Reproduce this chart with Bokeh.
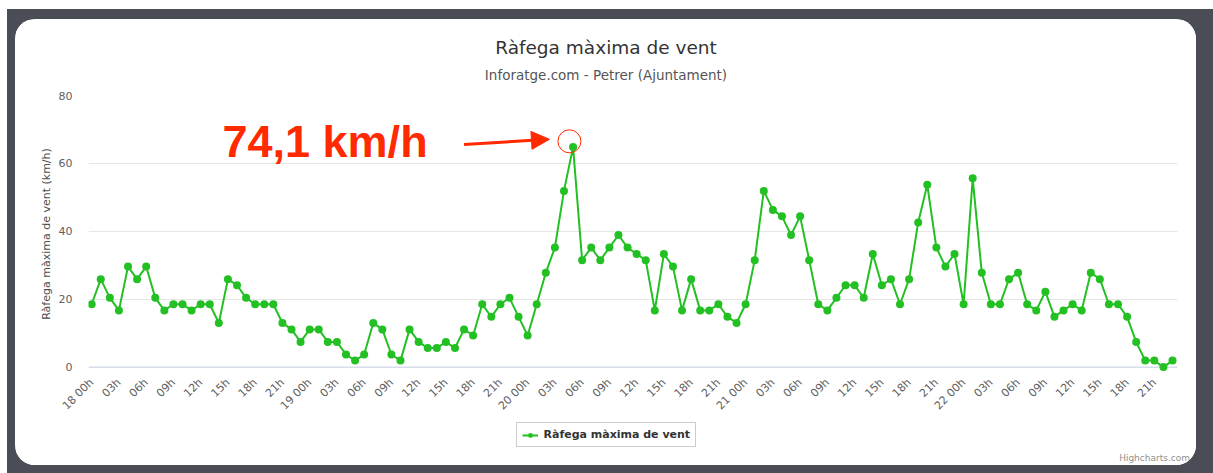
from bokeh.plotting import figure
from bokeh.models import Range1d, FixedTicker, Label, Legend, LegendItem, Arrow, NormalHead, Span, Div
from bokeh.layouts import column
from bokeh.embed import file_html
from bokeh.resources import INLINE

# ---------------- data ----------------
# hourly maximum wind gust, km/h, from day 18 00h to day 22 23h
gust_kmh = [
    18.5, 25.9, 20.4, 16.7, 29.6, 25.9, 29.6, 20.4, 16.7, 18.5, 18.5, 16.7,
    18.5, 18.5, 13.0, 25.9, 24.1, 20.4, 18.5, 18.5, 18.5, 13.0, 11.1, 7.4,
    11.1, 11.1, 7.4, 7.4, 3.7, 1.9, 3.7, 13.0, 11.1, 3.7, 1.9, 11.1,
    7.4, 5.6, 5.6, 7.4, 5.6, 11.1, 9.3, 18.5, 14.8, 18.5, 20.4, 14.8,
    9.3, 18.5, 27.8, 35.2, 51.9, 64.8, 31.5, 35.2, 31.5, 35.2, 38.9, 35.2,
    33.3, 31.5, 16.7, 33.3, 29.6, 16.7, 25.9, 16.7, 16.7, 18.5, 14.8, 13.0,
    18.5, 31.5, 51.9, 46.3, 44.4, 38.9, 44.4, 31.5, 18.5, 16.7, 20.4, 24.1,
    24.1, 20.4, 33.3, 24.1, 25.9, 18.5, 25.9, 42.6, 53.7, 35.2, 29.6, 33.3,
    18.5, 55.6, 27.8, 18.5, 18.5, 25.9, 27.8, 18.5, 16.7, 22.2, 14.8, 16.7,
    18.5, 16.7, 27.8, 25.9, 18.5, 18.5, 14.8, 7.4, 1.9, 1.9, 0.0, 1.9,
]
hours = list(range(len(gust_kmh)))

tick_positions = list(range(0, 120, 3))
tick_labels = [
    "18 00h", "03h", "06h", "09h", "12h", "15h", "18h", "21h",
    "19 00h", "03h", "06h", "09h", "12h", "15h", "18h", "21h",
    "20 00h", "03h", "06h", "09h", "12h", "15h", "18h", "21h",
    "21 00h", "03h", "06h", "09h", "12h", "15h", "18h", "21h",
    "22 00h", "03h", "06h", "09h", "12h", "15h", "18h", "21h",
]
y_ticks = [0, 20, 40, 60, 80]

title_text = "Ràfega màxima de vent"
subtitle_text = "Inforatge.com - Petrer (Ajuntament)"
y_title = "Ràfega màxima de vent (km/h)"
series_name = "Ràfega màxima de vent"
note_text = "74,1 km/h"
credit_text = "Highcharts.com"

# ---------------- styles ----------------
GREEN = "#22c022"
RED = "#ff2a00"
FONT = "DejaVu Sans"
FRAME_DARK = "#4a4d55"
CARD_W = 1181
LEFT_B, RIGHT_B = 73, 19          # frame borders, shared by all rows of the card
CARD_CX = CARD_W / 2 - LEFT_B     # card centre, relative to the frame


def blank_figure(height, y_range):
    f = figure(width=CARD_W, height=height, output_backend="svg", toolbar_location=None,
               title=None, x_axis_location=None, y_axis_location=None,
               x_range=Range1d(0, 120), y_range=y_range,
               min_border_left=LEFT_B, min_border_right=RIGHT_B,
               min_border_top=0, min_border_bottom=0)
    f.grid.visible = False
    f.outline_line_color = None
    f.border_fill_color = "white"
    f.background_fill_color = "white"
    return f


# ---------------- header: title + subtitle ----------------
head = blank_figure(66, Range1d(0, 1))
head.add_layout(Label(x=CARD_CX, y=38, x_units="screen", y_units="screen", text=title_text,
                      text_align="center", text_baseline="middle", text_font=FONT,
                      text_font_size="18.5px", text_color="#333333"))
head.add_layout(Label(x=CARD_CX, y=11, x_units="screen", y_units="screen", text=subtitle_text,
                      text_align="center", text_baseline="middle", text_font=FONT,
                      text_font_size="13.5px", text_color="#555555"))

# ---------------- main chart ----------------
p = figure(
    width=CARD_W, height=334, output_backend="svg", toolbar_location=None, title=None,
    x_range=Range1d(-0.35, 119.55), y_range=Range1d(-1.6, 80),
    min_border_left=LEFT_B, min_border_right=RIGHT_B, min_border_top=10, min_border_bottom=47,
)
p.border_fill_color = "white"
p.background_fill_color = "white"
p.outline_line_color = None

p.yaxis.ticker = FixedTicker(ticks=y_ticks)
p.yaxis.axis_line_color = None
p.yaxis.major_tick_line_color = None
p.yaxis.minor_tick_line_color = None
p.yaxis.major_tick_out = 0
p.yaxis.major_tick_in = 0
p.yaxis.major_label_standoff = 16
p.yaxis.major_label_text_font = FONT
p.yaxis.major_label_text_font_size = "11px"
p.yaxis.major_label_text_color = "#606060"
p.yaxis.axis_label = y_title
p.yaxis.axis_label_text_font = FONT
p.yaxis.axis_label_text_font_size = "11px"
p.yaxis.axis_label_text_font_style = "normal"
p.yaxis.axis_label_text_color = "#4d4d4d"
p.yaxis.axis_label_standoff = 3

p.xaxis.ticker = FixedTicker(ticks=tick_positions)
p.xaxis.major_label_overrides = {t: lab for t, lab in zip(tick_positions, tick_labels)}
p.xaxis.axis_line_color = None
p.xaxis.major_tick_line_color = None
p.xaxis.minor_tick_line_color = None
p.xaxis.major_tick_out = 0
p.xaxis.major_tick_in = 0
p.xaxis.major_label_orientation = 0.785398
p.xaxis.major_label_standoff = 8
p.xaxis.major_label_text_font = FONT
p.xaxis.major_label_text_font_size = "11px"
p.xaxis.major_label_text_color = "#606060"

p.xgrid.visible = False
p.ygrid.ticker = FixedTicker(ticks=y_ticks)
p.ygrid.grid_line_color = "#e6e6e6"

p.add_layout(Span(location=0, dimension="width", line_color="#ccd6eb", line_width=1, level="underlay"))

p.line(hours, gust_kmh, line_color=GREEN, line_width=2)
p.scatter(hours, gust_kmh, size=8, fill_color=GREEN, line_color=None)

# peak highlight
peak_i = max(hours, key=lambda i: gust_kmh[i])
peak_v = gust_kmh[peak_i]
p.scatter([peak_i - 0.4], [peak_v + 1.7], size=23, fill_color=None, line_color=RED, line_width=1)
p.add_layout(Arrow(
    x_start=peak_i - 12.0, y_start=peak_v + 0.8, x_end=peak_i - 2.6, y_end=peak_v + 2.3,
    line_color=RED, line_width=3,
    end=NormalHead(size=18, fill_color=RED, line_color=RED),
))
p.add_layout(Label(x=134, y=231, x_units="screen", y_units="screen", text=note_text,
                   text_align="left", text_baseline="alphabetic", text_font="Liberation Sans",
                   text_font_style="bold", text_font_size="45px", text_color=RED))

# ---------------- footer: legend ----------------
# the series is drawn again here only as the legend's sample; this row's y range
# lies far below 0, so none of its points show
foot = blank_figure(32, Range1d(-300, -250))
leg_line = foot.line(hours, gust_kmh, line_color=GREEN, line_width=2)
leg_pts = foot.scatter(hours, gust_kmh, size=8, fill_color=GREEN, line_color=None)
legend = Legend(
    items=[LegendItem(label=series_name, renderers=[leg_line, leg_pts])],
    location=(CARD_CX - 90, 4), orientation="horizontal",
    border_line_color="#999999", border_line_width=1,
    background_fill_color="white", background_fill_alpha=1,
    label_text_font=FONT, label_text_font_style="bold", label_text_font_size="11px",
    label_text_color="#333333", glyph_width=16, glyph_height=12,
    padding=5, margin=0, label_standoff=6,
)
foot.add_layout(legend)

credit = Div(text=credit_text, width=CARD_W, height=14, margin=0,
             styles={"text-align": "right", "font-family": FONT, "font-size": "9px",
                     "line-height": "14px", "color": "#909090", "padding-right": "6px",
                     "box-sizing": "border-box", "background-color": "white"})

card = column(head, p, foot, credit, width=CARD_W, height=446, margin=(10, 17, 8, 8),
              styles={"border-radius": "20px", "overflow": "hidden", "background-color": "white"})
root = column(card, width=1206, height=464, margin=(9, 0, 0, 7),
              styles={"background-color": FRAME_DARK})

open("out.html", "w").write(file_html(root, INLINE))
